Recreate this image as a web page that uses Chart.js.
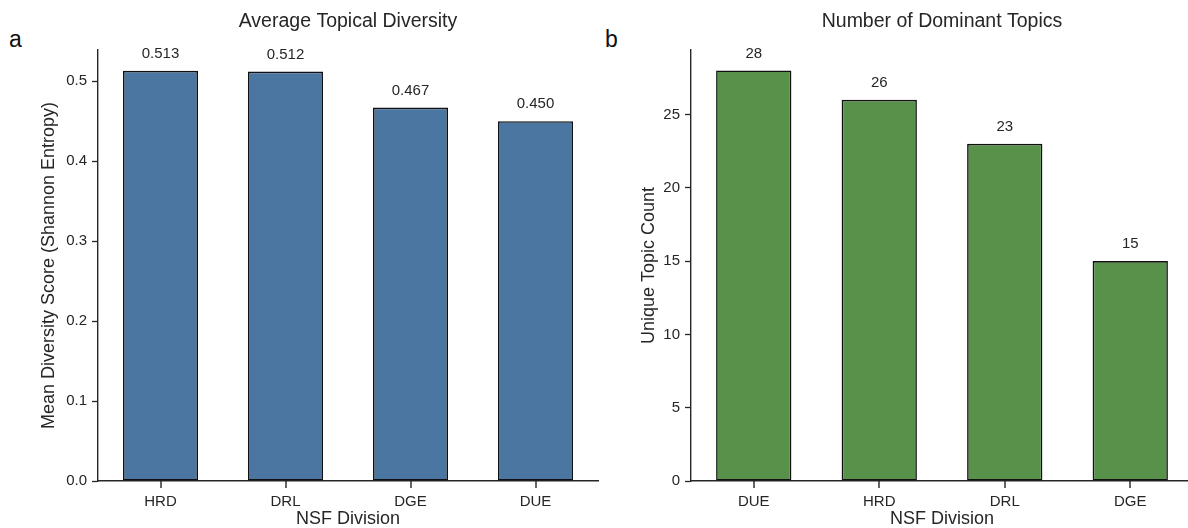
<!DOCTYPE html>
<html>
<head>
<meta charset="utf-8">
<script src="https://cdn.jsdelivr.net/npm/chart.js@4.4.0/dist/chart.umd.min.js"></script>
<style>
  html, body { margin: 0; padding: 0; background: #fff; overflow: hidden; }
  body { width: 1188px; height: 528px; position: relative; font-family: "Liberation Sans", Arial, sans-serif; }
  .wrap { position: absolute; top: 0; height: 528px; }
  .panel { position: absolute; font-size: 23px; color: #111; }
</style>
</head>
<body>
<div class="panel" style="left:9px; top:26px;">a</div>
<div class="panel" style="left:605px; top:26px;">b</div>
<div class="wrap" style="left:0; width:600px;"><canvas id="divChart"></canvas></div>
<div class="wrap" style="left:600px; width:600px;"><canvas id="topChart"></canvas></div>
<script>
const divCtx = document.getElementById('divChart').getContext('2d')
const topCtx = document.getElementById('topChart').getContext('2d')

// panel a
var divLabels = ["HRD", "DRL", "DGE", "DUE"]
var divScores = [0.513, 0.512, 0.467, 0.450]
var divTicks = [0, 0.1, 0.2, 0.3, 0.4, 0.5]
// panel b
var topLabels = ["DUE", "HRD", "DRL", "DGE"]
var topCounts = [28, 26, 23, 15]
var topTicks = [0, 5, 10, 15, 20, 25]

var ink = '#262626'
var fontFam = '"Liberation Sans", Arial, sans-serif'

// value labels above each bar + x tick marks under category centres
const barLabels = {
    id: 'barLabels',
    afterDraw(chart, args, opts) {
        let ctx = chart.ctx
        let meta = chart.getDatasetMeta(0)
        ctx.save()
        ctx.font = '15px ' + fontFam
        ctx.fillStyle = ink
        ctx.textAlign = 'center'
        ctx.textBaseline = 'alphabetic'
        meta.data.forEach((bar, i) => {
            let v = chart.data.datasets[0].data[i]
            ctx.fillText(opts.fmt(v), bar.x, bar.y - 13)
            ctx.fillRect(Math.round(bar.x) - 0.7, chart.chartArea.bottom, 1.4, 7)
        })
        ctx.restore()
    }
}

function makeConfig(labels, values, colour, yMax, ticks, fmt, title, yTitle, padLeft, yWidth, padRight) {
    return {
        type: 'bar',
        data: {
            labels: labels,
            datasets: [{
                data: values,
                backgroundColor: colour,
                borderColor: '#111',
                borderWidth: 1.6,
                borderSkipped: false,
                barPercentage: 0.6,
                categoryPercentage: 1.0
            }]
        },
        options: {
            responsive: false,
            animation: false,
            devicePixelRatio: 1,
            layout: { padding: { left: padLeft, right: padRight, top: 0, bottom: 0 } },
            plugins: {
                legend: { display: false },
                tooltip: { enabled: false },
                title: {
                    display: true,
                    text: title,
                    fullSize: false,
                    color: ink,
                    font: { family: fontFam, size: 19.5, weight: 'normal', lineHeight: 1.2 },
                    padding: { top: 10, bottom: 16.6 }
                },
                barLabels: { fmt: fmt }
            },
            scales: {
                x: {
                    grid: { display: false },
                    border: { display: true, color: ink, width: 1.4 },
                    ticks: { color: ink, padding: 4, font: { family: fontFam, size: 15 } },
                    title: { display: true, text: 'NSF Division', color: ink, padding: { top: 0, bottom: 0 }, font: { family: fontFam, size: 18, lineHeight: 1.0 } },
                    afterFit: (s) => { s.height = 47 }
                },
                y: {
                    min: 0,
                    max: yMax,
                    afterBuildTicks: (s) => { s.ticks = ticks.map(v => ({ value: v })) },
                    grid: { display: true, drawOnChartArea: false, drawTicks: true, tickLength: 6, tickColor: ink, tickWidth: 1.3 },
                    border: { display: true, color: ink, width: 1.4 },
                    ticks: { color: ink, padding: 5, font: { family: fontFam, size: 15 }, callback: (v) => fmt(v, true) },
                    title: { display: true, text: yTitle, color: ink, padding: { top: 8, bottom: 0 }, font: { family: fontFam, size: 18, lineHeight: 1.2 } },
                    afterFit: (s) => { s.width = yWidth }
                }
            }
        },
        plugins: [barLabels]
    }
}

var divConfig = makeConfig(divLabels, divScores, '#4a76a1', 0.539, divTicks,
    (v, tick) => tick ? v.toFixed(1) : v.toFixed(3),
    'Average Topical Diversity', 'Mean Diversity Score (Shannon Entropy)', 30, 68, 2)
var topConfig = makeConfig(topLabels, topCounts, '#58914a', 29.4, topTicks,
    (v) => String(v),
    'Number of Dominant Topics', 'Unique Topic Count', 30, 61, 7)

document.getElementById('divChart').width = 600
document.getElementById('divChart').height = 528
document.getElementById('topChart').width = 600
document.getElementById('topChart').height = 528

var divChart = new Chart(divCtx, divConfig)
var topChart = new Chart(topCtx, topConfig)
</script>
</body>
</html>
